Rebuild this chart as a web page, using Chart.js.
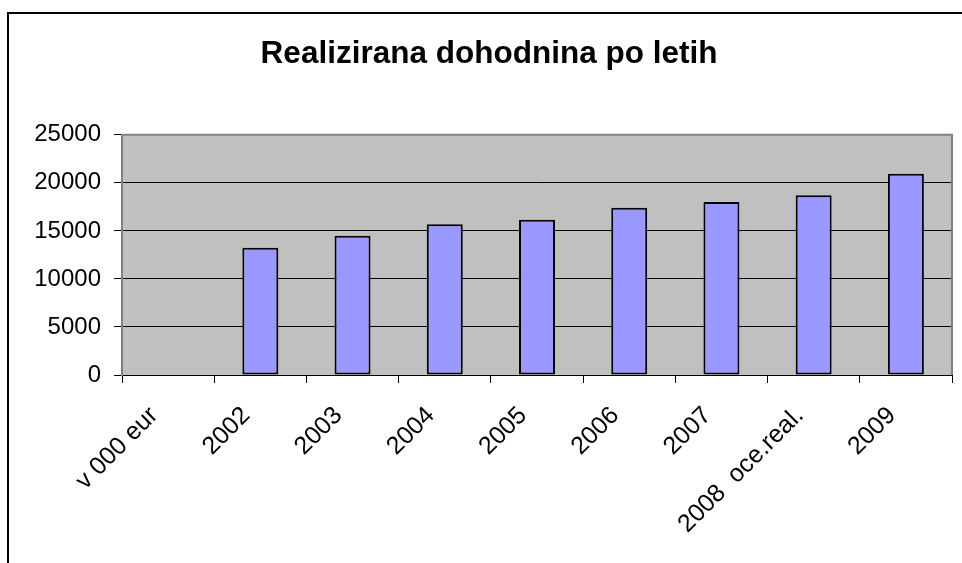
<!DOCTYPE html>
<html lang="sl">
<head>
    <meta charset="UTF-8">
    <title>Realizirana dohodnina po letih</title>
    <script src="https://cdn.jsdelivr.net/npm/chart.js"></script>
    <style>
        html, body { margin: 0; padding: 0; background: white; }
        #wrap { width: 962px; height: 563px; }
    </style>
</head>
<body>
    <div id="wrap"><canvas id="chart"></canvas></div>
    <script>
        // podatki
        var kategorije = ['v 000 eur', '2002', '2003', '2004', '2005', '2006', '2007', '2008  oce.real.', '2009'];
        var dohodnina = [null, 13250, 14500, 15700, 16150, 17400, 18000, 18700, 20950];
        var yTicks = [0, 5000, 10000, 15000, 20000, 25000];

        var fontFam = "'Liberation Sans', Arial, sans-serif";

        // okvir in sivo ozadje grafa
        var ozadje = {
            id: 'ozadje',
            beforeDraw: function(chart) {
                var ctx = chart.ctx, a = chart.chartArea;
                ctx.save();
                ctx.fillStyle = '#c0c0c0';
                ctx.fillRect(a.left, a.top, a.right - a.left, a.bottom - a.top);
                ctx.strokeStyle = '#000';
                ctx.lineWidth = 2;
                ctx.beginPath();
                ctx.moveTo(8, 600);
                ctx.lineTo(8, 13);
                ctx.lineTo(1000, 13);
                ctx.stroke();
                ctx.restore();
            },
            afterDatasetsDraw: function(chart) {
                var ctx = chart.ctx, a = chart.chartArea;
                ctx.save();
                ctx.strokeStyle = '#808080';
                ctx.lineWidth = 2;
                ctx.beginPath();
                ctx.moveTo(a.left, a.top);
                ctx.lineTo(a.right, a.top);
                ctx.lineTo(a.right, a.bottom);
                ctx.stroke();
                ctx.restore();
            }
        };

        new Chart(document.getElementById('chart'), {
            type: 'bar',
            data: {
                labels: kategorije,
                datasets: [{
                    data: dohodnina,
                    backgroundColor: '#9999ff',
                    borderColor: '#000',
                    borderWidth: 2,
                    borderSkipped: false,
                    barPercentage: 0.39,
                    categoryPercentage: 1
                }]
            },
            options: {
                responsive: true,
                maintainAspectRatio: false,
                animation: false,
                layout: { padding: { left: 26, right: 10, top: 0, bottom: 0 } },
                plugins: {
                    legend: { display: false },
                    tooltip: { enabled: false },
                    title: {
                        display: true,
                        text: 'Realizirana dohodnina po letih',
                        color: '#000',
                        font: { family: fontFam, size: 31.5, weight: 'bold', lineHeight: 1.2 },
                        padding: { top: 35, bottom: 62 }
                    }
                },
                scales: {
                    x: {
                        afterFit: function(s) { s.height = 188; },
                        grid: { drawOnChartArea: false, color: '#000', tickLength: 8, offset: true },
                        border: { color: '#000', width: 1 },
                        ticks: {
                            color: '#000',
                            autoSkip: false,
                            maxRotation: 45,
                            minRotation: 45,
                            padding: 18,
                            labelOffset: -14,
                            font: { family: fontFam, size: 25 }
                        }
                    },
                    y: {
                        min: 0,
                        max: 25000,
                        afterFit: function(s) { s.width = 96; },
                        afterBuildTicks: function(s) {
                            s.ticks = yTicks.map(function(v) { return { value: v }; });
                        },
                        grid: {
                            color: function(c) { return c.tick && c.tick.value === 25000 ? '#808080' : '#000'; },
                            tickColor: '#000',
                            tickLength: 8,
                            lineWidth: 1
                        },
                        border: { color: '#808080', width: 2 },
                        ticks: {
                            color: '#000',
                            padding: 13,
                            font: { family: fontFam, size: 24 },
                            callback: function(v) { return String(v); }
                        }
                    }
                }
            },
            plugins: [ozadje]
        });
    </script>
</body>
</html>
